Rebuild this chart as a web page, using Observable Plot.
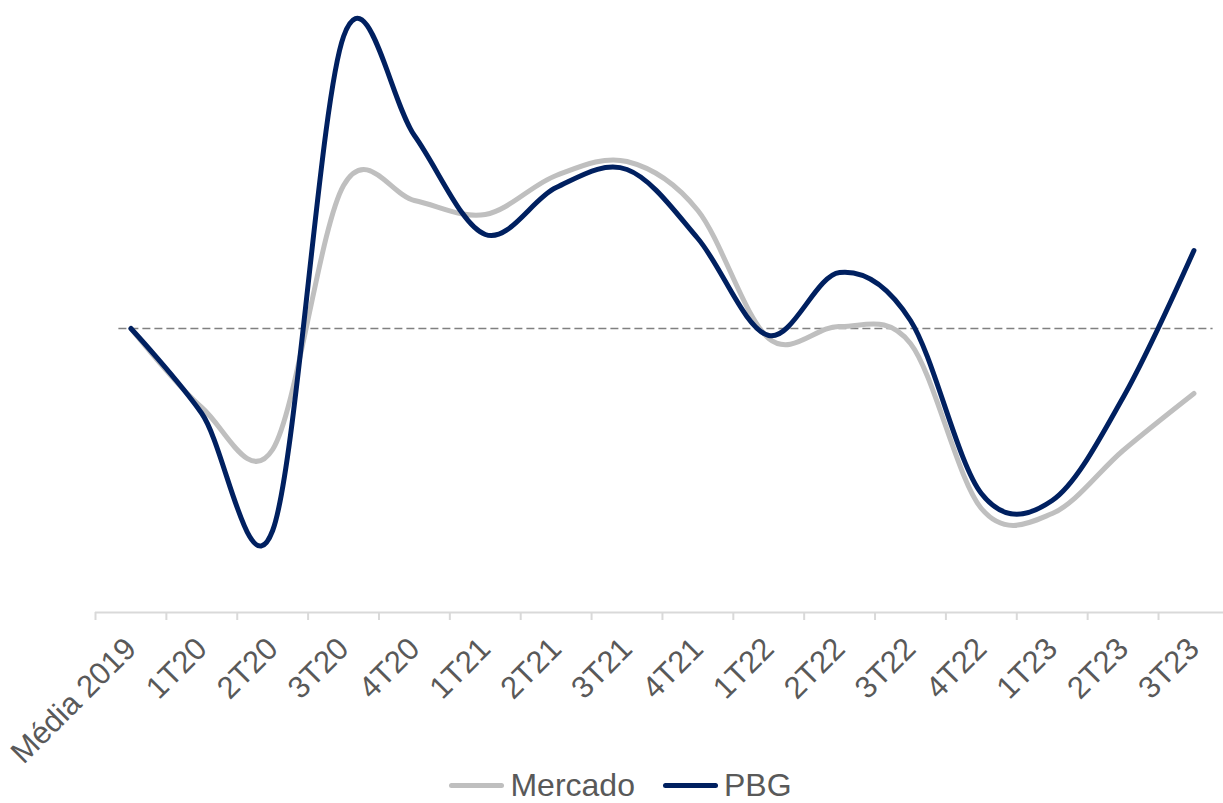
<!DOCTYPE html>
<html>
<head>
<meta charset="utf-8">
<script src="https://cdn.jsdelivr.net/npm/d3@7"></script>
<script src="https://cdn.jsdelivr.net/npm/@observablehq/plot@0.6"></script>
<style>
  html, body { margin: 0; padding: 0; background: #fff; }
  body { width: 1223px; height: 803px; overflow: hidden; position: relative; font-family: "Liberation Sans", Arial, sans-serif; }
  #legend { position: absolute; left: 9px; top: 767px; width: 1223px; height: 36px; display: flex; justify-content: center; align-items: center; font-size: 32px; color: #595959; }
  .item { display: flex; align-items: center; }
  .sw { width: 55px; height: 5px; border-radius: 3px; margin-right: 6px; }
  .item + .item { margin-left: 28px; }
</style>
</head>
<body>
<div id="chart"></div>
<div id="legend"></div>
<script>
const categories = ["Média 2019","1T20","2T20","3T20","4T20","1T21","2T21","3T21","4T21","1T22","2T22","3T22","4T22","1T23","2T23","3T23"];
const mercado = [100, 84.2, 75.8, 128.6, 125.6, 122.8, 130.6, 133.4, 123.6, 98.0, 100.4, 97.0, 64.0, 63.0, 75.6, 87.0];
const pbg     = [100, 83.0, 59.6, 158.4, 138.6, 118.8, 128.2, 131.8, 118.0, 98.6, 111.2, 101.6, 67.0, 65.6, 86.2, 115.6];
const seriesNames = ["Mercado", "PBG"];
const seriesColors = ["#bfbfbf", "#002060"];
const baseline = 100;
const yMin = 43.2, yMax = 165.6;

const idx = categories.map((c, i) => i);
const bounds = d3.range(-0.5, categories.length - 1, 1);

const chart = Plot.plot({
  width: 1223,
  height: 760,
  marginLeft: 95,
  marginRight: 0,
  marginTop: 0,
  marginBottom: 148,
  style: { fontFamily: "'Liberation Sans', Arial, sans-serif", background: "white", overflow: "visible" },
  x: { type: "linear", domain: [-0.5, categories.length - 0.583], axis: null },
  y: { domain: [yMin, yMax], axis: null },
  marks: [
    Plot.ruleY([baseline], { x1: -0.17, x2: 15.27, stroke: "#808080", strokeWidth: 1.5, strokeDasharray: "8,4" }),
    Plot.ruleY([yMin], { stroke: "#d9d9d9", strokeWidth: 2 }),
    Plot.axisX(bounds, { tickSize: 8, tickFormat: () => "", stroke: "#d9d9d9", strokeWidth: 2 }),
    Plot.axisX(idx, { tickSize: 0, tickPadding: 31, tickRotate: -45, tickFormat: i => categories[i], fontSize: 31, fill: "#595959" }),
    Plot.line(mercado, { x: (d, i) => i, y: d => d, curve: "cardinal", stroke: seriesColors[0], strokeWidth: 5, strokeLinecap: "round", strokeLinejoin: "round" }),
    Plot.line(pbg, { x: (d, i) => i, y: d => d, curve: "cardinal", stroke: seriesColors[1], strokeWidth: 5, strokeLinecap: "round", strokeLinejoin: "round" })
  ]
});
document.getElementById("chart").appendChild(chart);

const legend = document.getElementById("legend");
seriesNames.forEach((n, k) => {
  const it = document.createElement("div");
  it.className = "item";
  it.innerHTML = `<span class="sw" style="background:${seriesColors[k]}"></span><span>${n}</span>`;
  legend.appendChild(it);
});
</script>
</body>
</html>
